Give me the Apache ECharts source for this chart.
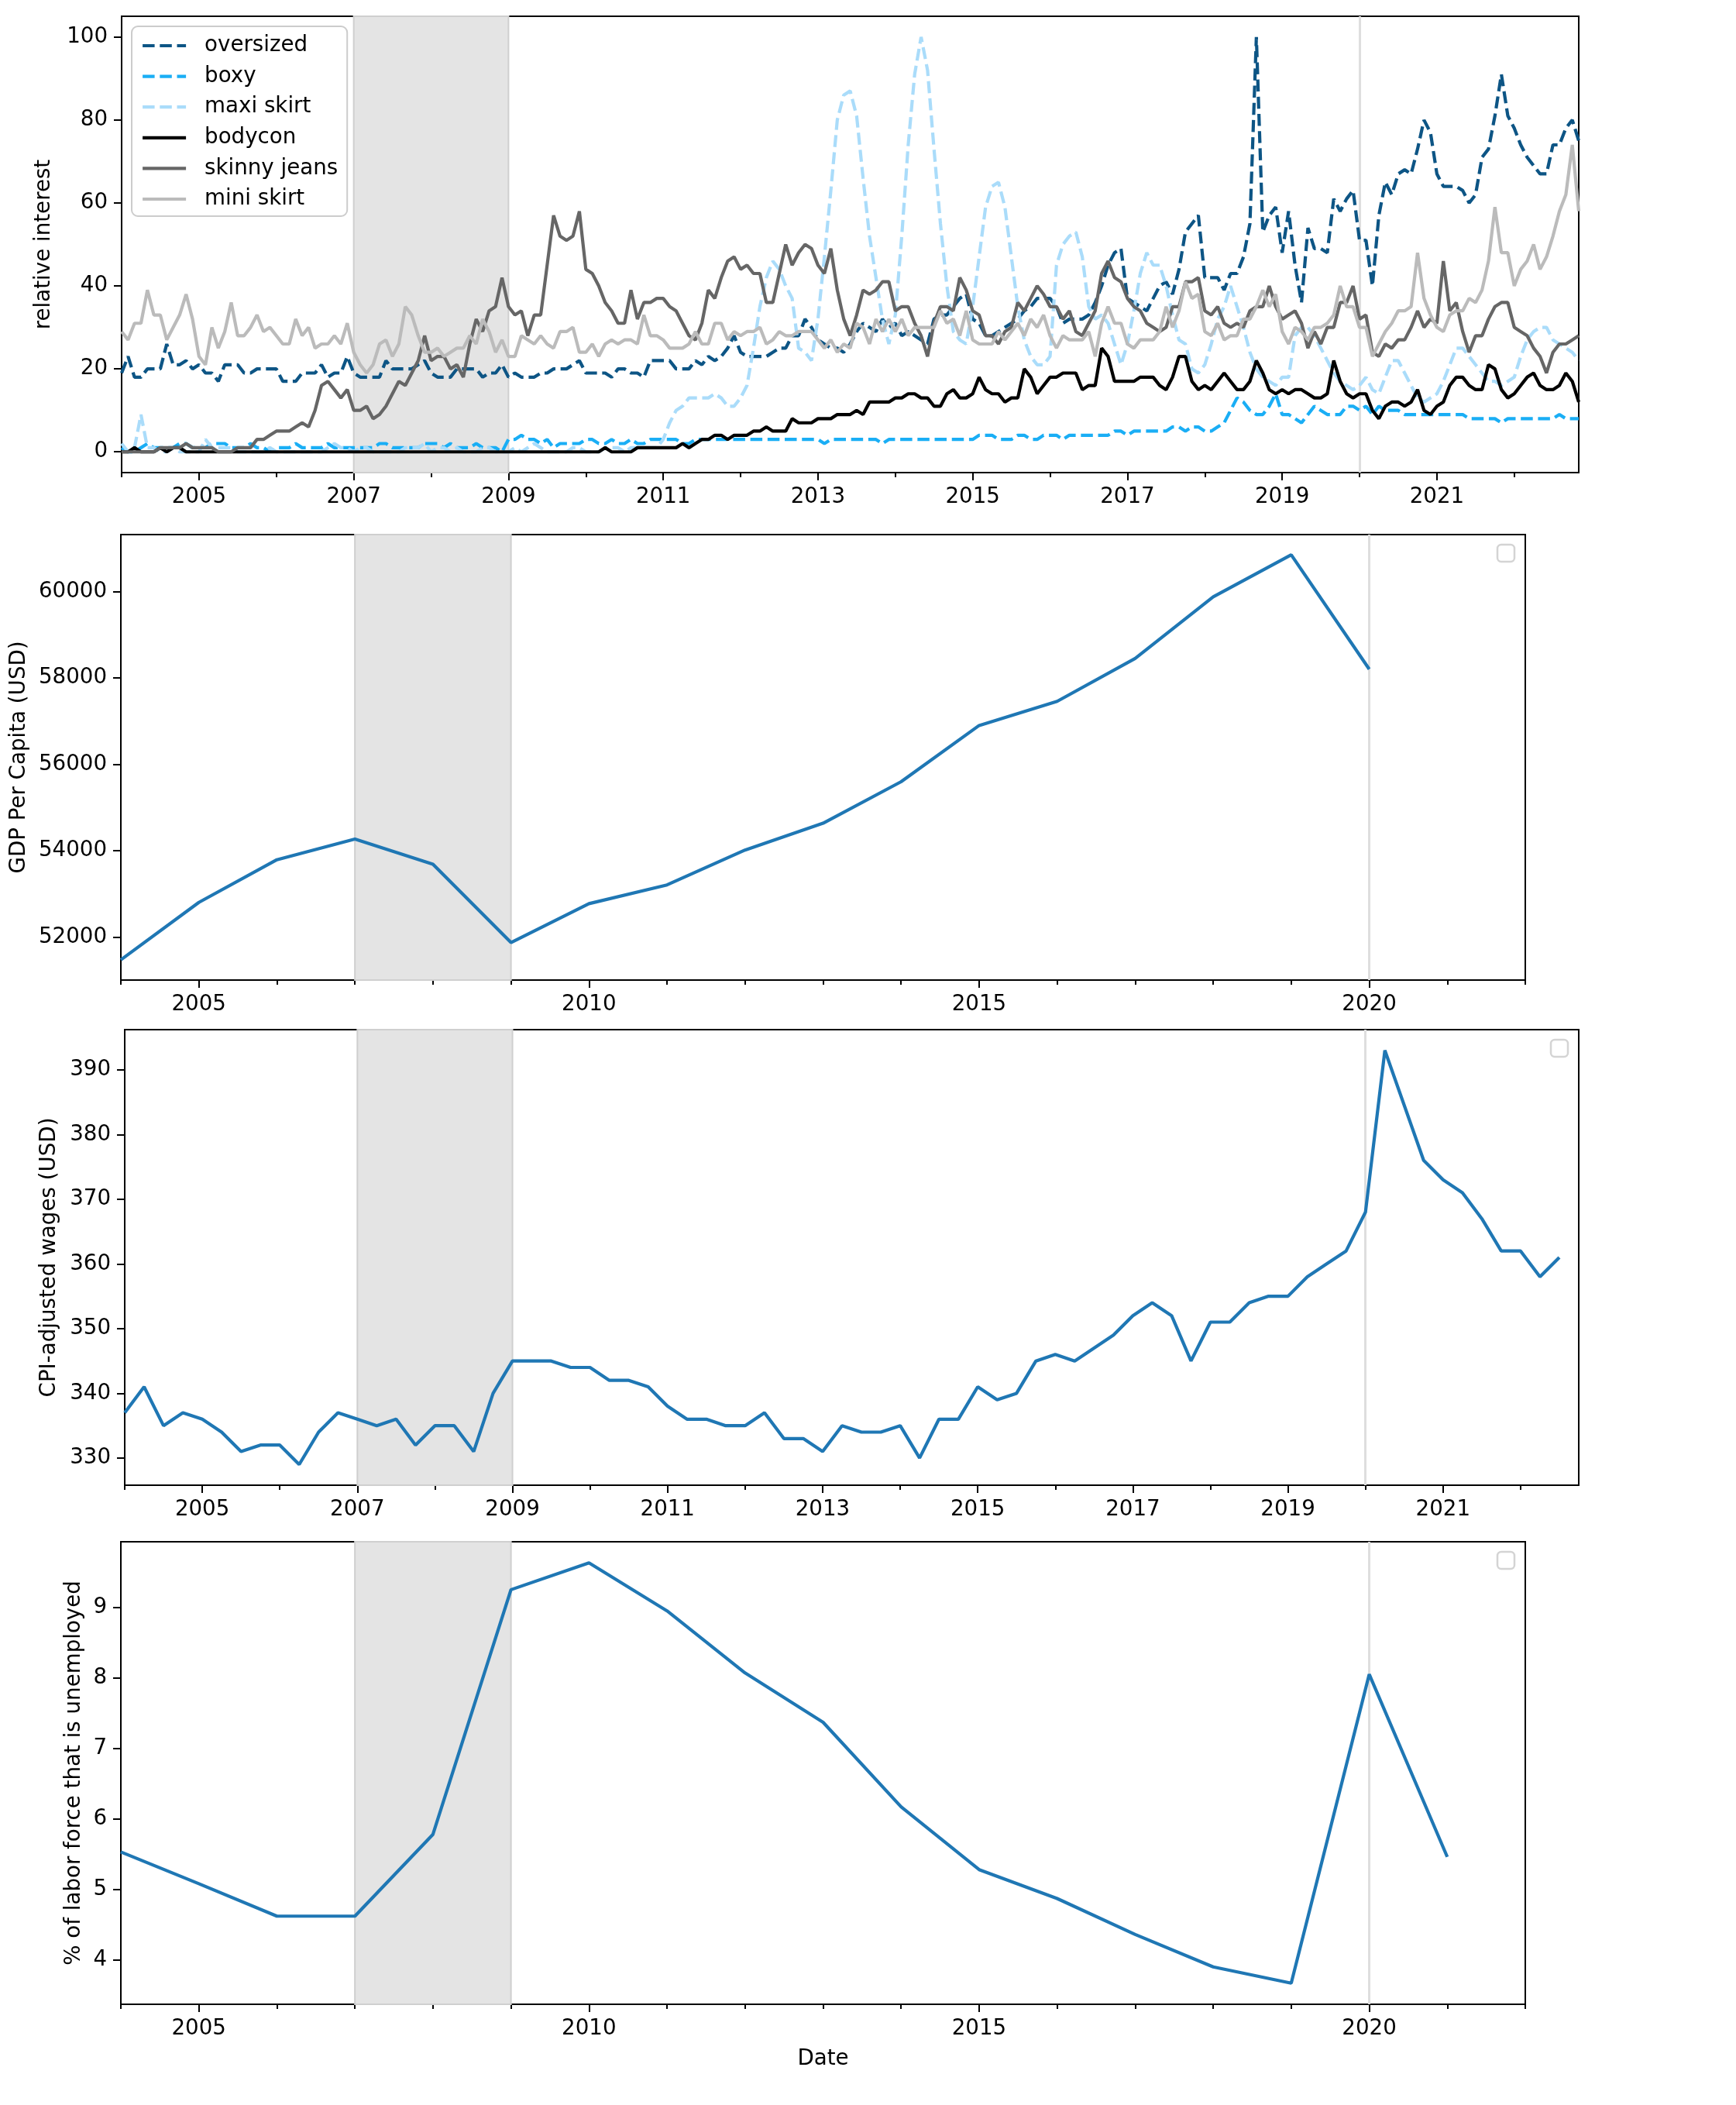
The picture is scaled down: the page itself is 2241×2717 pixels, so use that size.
<!DOCTYPE html>
<html><head><meta charset="utf-8">
<script src="https://cdn.jsdelivr.net/npm/echarts@6/dist/echarts.min.js"></script>
<style>html,body{margin:0;padding:0;background:#fff}#c{width:2241px;height:2717px}</style>
</head><body><div id="c"></div>
<script>
// ---------- DATA ----------
// Google-trends style relative interest, monthly from 2004-01 (227 months, to 2022-11)
const trendStartYear = 2004, trendMonths = 227;
const oversized = [
19,23,18,18,20,20,20,26,21,21,22,20,
21,19,19,17,21,21,21,19,19,20,20,20,
20,17,17,17,19,19,19,21,18,19,19,23,
19,18,18,18,18,22,20,20,20,20,21,22,
19,18,18,18,20,20,20,20,18,19,19,21,
18,19,18,18,18,19,19,20,20,20,21,22,
19,19,19,19,18,20,20,19,19,18,22,22,
22,22,20,20,20,22,21,23,22,23,25,28,
24,23,23,23,23,24,25,25,28,28,32,30,
27,26,25,25,24,26,29,31,30,29,32,30,
31,28,29,28,27,26,32,33,33,35,37,38,
32,31,28,28,29,30,31,32,34,35,37,37,
37,35,31,32,32,32,33,36,40,45,48,49,
37,36,35,34,37,40,41,38,44,53,55,57,
42,42,42,39,43,43,47,55,100,53,57,59,
48,58,45,36,54,49,49,48,61,58,61,63,
51,51,40,57,65,62,67,68,67,73,80,77,
67,64,64,64,63,60,62,71,73,81,91,81,
78,74,71,69,67,67,74,74,78,80,75];
const boxy = [
1,0,0,1,2,1,1,1,1,2,2,1,
1,1,2,2,2,1,1,1,2,1,1,0,
1,1,1,2,1,1,1,1,2,1,1,1,
1,1,1,1,2,2,1,1,1,1,1,2,
2,2,1,2,1,1,1,2,1,1,1,0,
3,3,4,3,3,2,3,1,2,2,2,2,
3,3,2,2,3,2,2,3,2,2,3,3,
3,3,3,2,2,3,3,3,3,3,3,3,
3,3,3,3,3,3,3,3,3,3,3,3,
3,2,3,3,3,3,3,3,3,3,2,3,
3,3,3,3,3,3,3,3,3,3,3,3,
3,4,4,4,3,3,3,4,4,3,3,4,
4,4,3,4,4,4,4,4,4,4,5,5,
4,5,5,5,5,5,5,6,6,5,6,6,
5,5,6,7,10,13,12,10,9,9,11,14,
9,9,8,7,9,11,10,9,9,9,11,11,
10,11,9,11,10,10,10,9,9,9,9,9,
9,9,9,9,9,8,8,8,8,8,7,8,
8,8,8,8,8,8,8,9,8,8,8];
const maxiSkirt = [
2,0,1,9,1,1,0,0,1,0,0,0,
0,3,1,1,1,1,0,0,0,0,0,1,
0,0,0,0,0,0,0,0,1,2,1,1,
0,1,1,0,0,0,0,0,1,1,1,2,
0,1,1,0,1,0,0,0,1,1,0,0,
0,1,0,1,2,1,0,0,0,0,1,1,
0,0,0,1,1,1,0,1,1,1,1,1,
3,7,10,11,13,13,13,13,14,13,11,11,
13,16,25,35,42,46,44,40,37,25,24,22,
32,47,63,80,86,87,81,66,52,42,32,26,
33,52,74,91,100,92,73,55,40,29,27,26,
35,47,59,64,65,59,47,35,27,23,21,21,
23,45,50,52,53,47,35,32,33,31,26,21,
26,34,43,48,45,45,40,33,27,26,20,19,
21,26,32,35,40,35,30,24,20,18,17,16,
18,18,28,30,30,28,25,22,19,17,16,15,
16,18,15,14,18,22,22,19,16,13,12,13,
14,17,21,25,25,23,21,19,17,17,16,17,
18,23,27,29,30,30,27,26,25,24,22];
const bodycon = [
0,0,1,0,0,0,1,0,1,1,0,0,
0,0,0,0,0,0,0,0,0,0,0,0,
0,0,0,0,0,0,0,0,0,0,0,0,
0,0,0,0,0,0,0,0,0,0,0,0,
0,0,0,0,0,0,0,0,0,0,0,0,
0,0,0,0,0,0,0,0,0,0,0,0,
0,0,0,1,0,0,0,0,1,1,1,1,
1,1,1,2,1,2,3,3,4,4,3,4,
4,4,5,5,6,5,5,5,8,7,7,7,
8,8,8,9,9,9,10,9,12,12,12,12,
13,13,14,14,13,13,11,11,14,15,13,13,
14,18,15,14,14,12,13,13,20,18,14,16,
18,18,19,19,19,15,16,16,25,23,17,17,
17,17,18,18,18,16,15,18,23,23,17,15,
16,15,17,19,17,15,15,17,22,19,15,14,
15,14,15,15,14,13,13,14,22,17,14,13,
14,14,10,8,11,12,12,11,12,15,10,9,
11,12,16,18,18,16,15,15,21,20,15,13,
14,16,18,19,16,15,15,16,19,17,12];
const skinnyJeans = [
0,0,0,0,0,0,1,1,1,1,2,1,
1,1,1,0,0,0,1,1,1,3,3,4,
5,5,5,6,7,6,10,16,17,15,13,15,
10,10,11,8,9,11,14,17,16,19,22,28,
22,23,23,20,21,18,26,32,29,34,35,42,
35,33,34,28,33,33,45,57,52,51,52,58,
44,43,40,36,34,31,31,39,32,36,36,37,
37,35,34,31,28,27,31,39,37,42,46,47,
44,45,43,43,36,36,43,50,45,48,50,49,
45,43,49,39,32,28,33,39,38,39,41,41,
34,35,35,31,28,23,31,35,35,34,42,39,
34,33,28,28,26,29,30,36,34,37,40,38,
35,35,32,34,29,28,31,34,43,46,42,41,
37,35,34,31,30,29,30,35,35,41,41,42,
34,33,35,31,30,31,30,34,35,35,40,35,
32,33,34,31,25,29,26,30,30,36,36,40,
32,33,24,23,26,25,27,27,30,34,30,32,
31,46,34,36,29,24,28,28,32,35,36,36,
30,29,28,25,23,19,24,26,26,27,28];
const miniSkirt = [
29,27,31,31,39,33,33,27,30,33,38,32,
23,21,30,25,29,36,28,28,30,33,29,30,
28,26,26,32,28,30,25,26,26,28,26,31,
24,21,19,21,26,27,23,26,35,33,28,24,
24,25,23,24,25,25,28,26,32,29,24,27,
23,23,28,27,26,28,26,25,29,29,30,24,
24,26,23,26,27,26,27,27,26,33,28,28,
27,25,25,25,26,29,26,26,31,31,27,29,
28,29,29,30,26,27,29,28,28,29,29,29,
27,25,27,24,26,25,31,30,26,32,29,32,
29,32,28,30,30,30,30,34,31,32,28,34,
27,26,26,26,29,27,29,31,28,32,30,33,
28,25,28,27,27,27,29,23,31,35,31,31,
26,25,27,27,27,29,35,30,34,41,37,38,
29,28,31,27,28,28,32,32,35,39,35,38,
29,26,30,29,27,30,30,31,33,40,35,35,
30,30,23,26,29,31,34,34,35,48,37,33,
30,29,33,34,34,37,36,39,46,59,48,48,
40,44,46,50,44,47,52,58,62,74,58];

// GDP per capita (annual)
const gdpYears = [2004,2005,2006,2007,2008,2009,2010,2011,2012,2013,2014,2015,2016,2017,2018,2019,2020];
const gdpValues = [51476,52804,53792,54271,53689,51875,52775,53209,54016,54636,55597,56899,57457,58450,59876,60848,58201];

// CPI-adjusted weekly wages (quarterly from 2004Q1)
const wageStartYear = 2004;
const wageValues = [
337,341,335,337, 336,334,331,332, 332,329,334,337, 336,335,336,332,
335,335,331,340, 345,345,345,344, 344,342,342,341, 338,336,336,335,
335,337,333,333, 331,335,334,334, 335,330,336,336, 341,339,340,345,
346,345,347,349, 352,354,352,345, 351,351,354,355, 355,358,360,362,
368,393,384.5,376, 373,371,367,362, 362,358,361];

// Unemployment rate (annual)
const unempYears = [2004,2005,2006,2007,2008,2009,2010,2011,2012,2013,2014,2015,2016,2017,2018,2019,2020,2021];
const unempValues = [5.53,5.08,4.62,4.62,5.78,9.25,9.63,8.95,8.07,7.37,6.17,5.28,4.87,4.36,3.90,3.67,8.05,5.46];

// Tick labels
const oddYears = [2005,2007,2009,2011,2013,2015,2017,2019,2021];
const evenYears = [2004,2006,2008,2010,2012,2014,2016,2018,2020,2022];
const fiveYears = [2005,2010,2015,2020];
const otherYears = [2004,2006,2007,2008,2009,2011,2012,2013,2014,2016,2017,2018,2019,2021,2022];
const trendTicks = [0,20,40,60,80,100];
const gdpTicks = [52000,54000,56000,58000,60000];
const wageTicks = [330,340,350,360,370,380,390];
const unempTicks = [4,5,6,7,8,9];
const recession = [2007, 2009];
const covidLine = 2020;

// ---------- BUILD ----------
const monthLabels = [];
for (let i = 0; i < trendMonths; i++) {
  const y = trendStartYear + Math.floor(i / 12), m = i % 12 + 1;
  monthLabels.push(y + '-' + String(m).padStart(2, '0'));
}
const monthX = monthLabels.map(s => { const [y, m] = s.split('-').map(Number); return y + (m - 1) / 12; });
const quarterLabels = wageValues.map((_, i) => (wageStartYear + Math.floor(i / 4)) + 'Q' + (i % 4 + 1));
const quarterX = quarterLabels.map(s => { const [y, q] = s.split('Q').map(Number); return y + (q - 1) / 4; });

const FONT = 'DejaVu Sans', FS = 27.7, LW = 4.2;
const grids = [
  {left: 157, top: 21, width: 1881, height: 589},
  {left: 156, top: 690, width: 1813, height: 575},
  {left: 161, top: 1329, width: 1877, height: 588},
  {left: 156, top: 1990, width: 1813, height: 597}
];
const xRanges = [[2004, 2004 + (trendMonths - 1) / 12], [2004, 2022], [2004, 2022.75], [2004, 2022]];
const yRanges = [[-5, 105], [51007, 61317], [325.8, 396.2], [3.37, 9.93]];
const majors = [oddYears, fiveYears, oddYears, fiveYears];
const minors = [evenYears, otherYears, evenYears, otherYears];
const yTicks = [trendTicks, gdpTicks, wageTicks, unempTicks];
const yNames = ['relative interest', 'GDP Per Capita (USD)', 'CPI-adjusted wages (USD)', '% of labor force that is unemployed'];
const yNameGaps = [86, 113, 83, 40];

const xAxes = [], yAxes = [];
grids.forEach((g, i) => {
  xAxes.push({
    type: 'value', gridIndex: i, min: xRanges[i][0], max: xRanges[i][1], position: 'bottom',
    axisLine: {show: true, onZero: false, lineStyle: {color: '#000', width: 2}},
    axisTick: {show: true, customValues: majors[i], length: 10, lineStyle: {color: '#000', width: 2}},
    axisLabel: {show: true, customValues: majors[i], formatter: v => String(v), margin: 18, fontFamily: FONT, fontSize: FS, color: '#000'},
    splitLine: {show: false},
    name: i === 3 ? 'Date' : '', nameLocation: 'middle', nameGap: 57,
    nameTextStyle: {fontFamily: FONT, fontSize: FS, color: '#000'}
  });
  xAxes.push({
    type: 'value', gridIndex: i, min: xRanges[i][0], max: xRanges[i][1], position: 'bottom', offset: 0,
    axisLine: {show: false, onZero: false},
    axisTick: {show: true, customValues: minors[i], length: 6, lineStyle: {color: '#000', width: 2}},
    axisLabel: {show: false}, splitLine: {show: false}
  });
  yAxes.push({
    type: 'value', gridIndex: i, min: yRanges[i][0], max: yRanges[i][1],
    axisLine: {show: true, lineStyle: {color: '#000', width: 2}},
    axisTick: {show: true, customValues: yTicks[i], length: 10, lineStyle: {color: '#000', width: 2}},
    axisLabel: {show: true, customValues: yTicks[i], formatter: v => String(v), margin: 18, fontFamily: FONT, fontSize: FS, color: '#000'},
    splitLine: {show: false},
    name: yNames[i], nameLocation: 'middle', nameRotate: 90, nameGap: yNameGaps[i],
    nameTextStyle: {fontFamily: FONT, fontSize: FS, color: '#000'}
  });
});

function shading(i) {
  return {
    type: 'line', xAxisIndex: i * 2, yAxisIndex: i, data: [[xRanges[i][0], null]], silent: true, symbol: 'none', z: 1,
    markArea: {silent: true, z: 1, itemStyle: {color: '#e4e4e4', borderColor: '#cfcfcf', borderWidth: 2},
      data: [[{xAxis: recession[0]}, {xAxis: recession[1]}]]},
    markLine: {silent: true, z: 1, symbol: ['none', 'none'], label: {show: false},
      lineStyle: {color: '#dedede', width: 3, type: 'solid'}, data: [{xAxis: covidLine}]}
  };
}
const DASH = [15.5, 6.7];
function trend(name, vals, color, dashed) {
  return {
    type: 'line', name, xAxisIndex: 0, yAxisIndex: 0, symbol: 'none', z: 3,
    data: vals.map((v, k) => [monthX[k], v]),
    lineStyle: {color, width: LW, type: dashed ? DASH : 'solid', cap: 'butt'},
    itemStyle: {color}
  };
}
function blue(i, xs, ys) {
  return {
    type: 'line', xAxisIndex: i * 2, yAxisIndex: i, symbol: 'none', z: 3,
    data: ys.map((v, k) => [xs[k], v]),
    lineStyle: {color: '#1f77b4', width: LW}, itemStyle: {color: '#1f77b4'}
  };
}

const series = [
  shading(0), shading(1), shading(2), shading(3),
  trend('oversized', oversized, '#0d5585', true),
  trend('boxy', boxy, '#1aaef5', true),
  trend('maxi skirt', maxiSkirt, '#aadcfa', true),
  trend('bodycon', bodycon, '#000000', false),
  trend('skinny jeans', skinnyJeans, '#666666', false),
  trend('mini skirt', miniSkirt, '#bbbbbb', false),
  blue(1, gdpYears, gdpValues),
  blue(2, quarterX, wageValues),
  blue(3, unempYears, unempValues)
];

const graphics = [1, 2, 3].map(i => ({
  type: 'rect', z: 10,
  shape: {x: grids[i].left + grids[i].width - 36, y: grids[i].top + 13, width: 22, height: 22, r: 5},
  style: {fill: '#ffffff', stroke: '#d4d4d4', lineWidth: 2.5}
}));

const chart = echarts.init(document.getElementById('c'), null, {renderer: 'canvas'});
chart.setOption({
  animation: false,
  backgroundColor: '#ffffff',
  textStyle: {fontFamily: FONT},
  grid: grids.map(g => Object.assign({show: true, borderColor: '#000', borderWidth: 2, backgroundColor: 'transparent', containLabel: false}, g)),
  xAxis: xAxes,
  yAxis: yAxes,
  legend: {
    show: true, orient: 'vertical', left: 170, top: 34,
    data: ['oversized', 'boxy', 'maxi skirt', 'bodycon', 'skinny jeans', 'mini skirt'],
    itemWidth: 56, itemHeight: 28, itemGap: 11.6, padding: [11, 12, 8, 12],
    itemStyle: {color: 'rgba(0,0,0,0)', borderColor: 'rgba(0,0,0,0)', borderWidth: 0},
    lineStyle: {width: LW},
    backgroundColor: 'rgba(255,255,255,0.8)', borderColor: '#cccccc', borderWidth: 2, borderRadius: 8,
    textStyle: {fontFamily: FONT, fontSize: FS, lineHeight: 28, color: '#000', padding: [0, 0, 0, 19]}
  },
  graphic: graphics,
  series
});
</script>
</body></html>
